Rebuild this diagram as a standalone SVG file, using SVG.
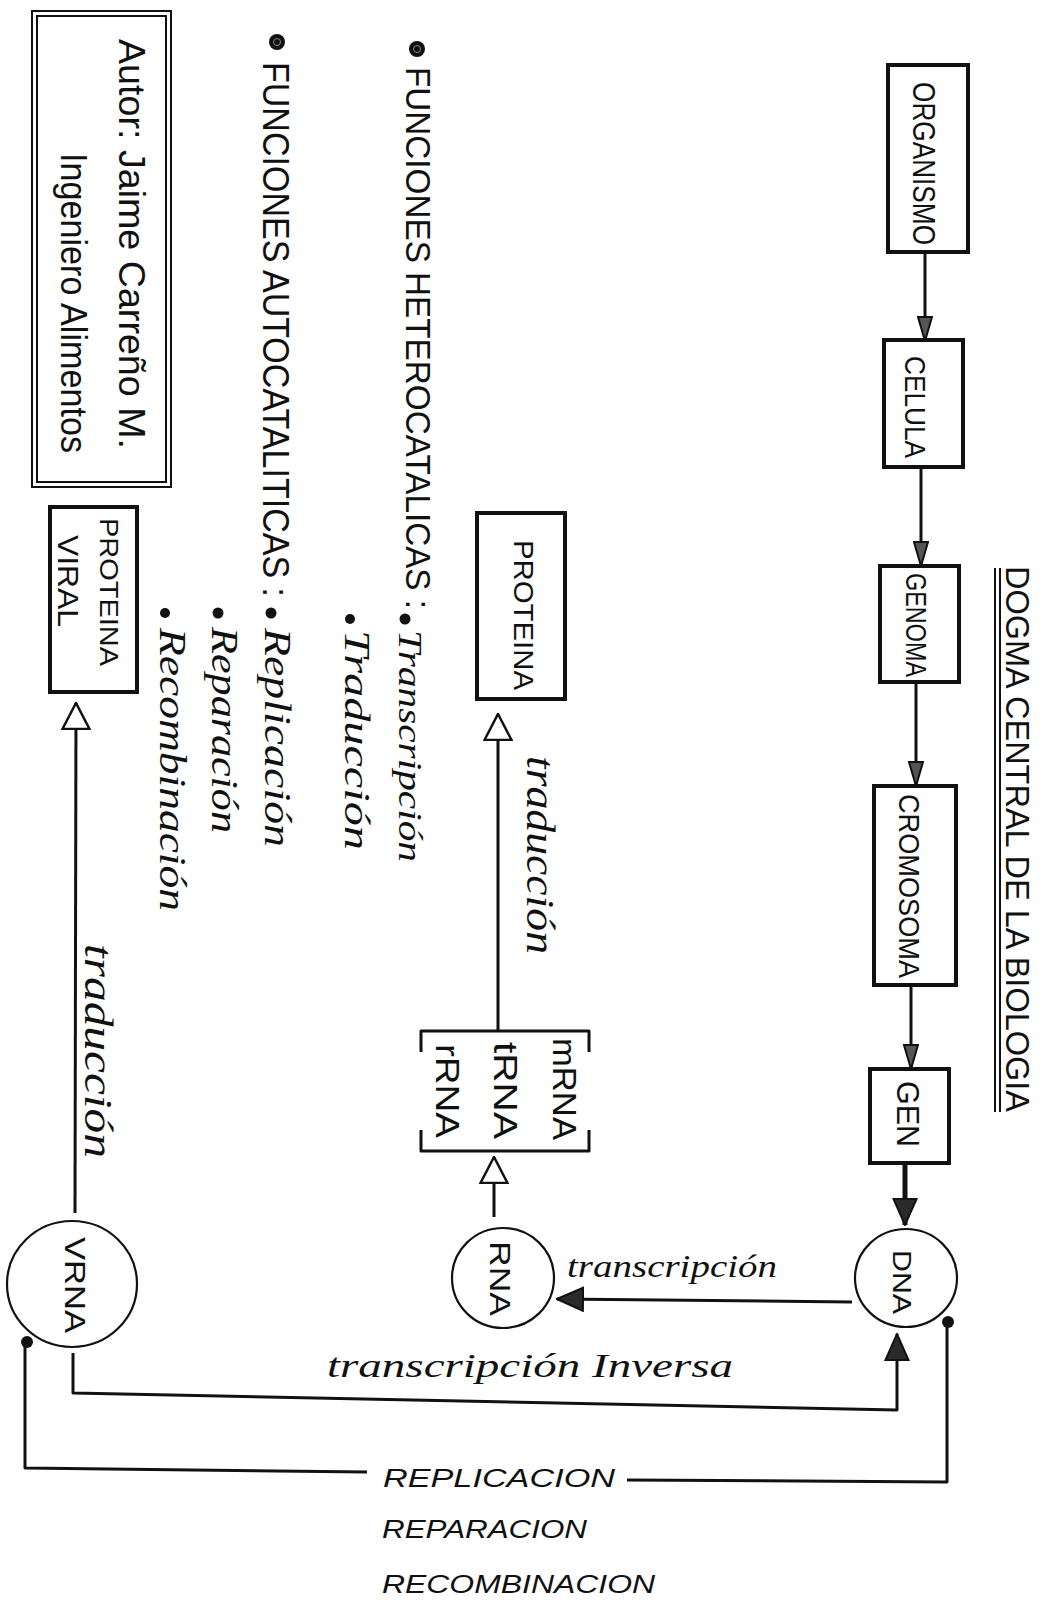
<svg xmlns="http://www.w3.org/2000/svg" width="1046" height="1600" viewBox="0 0 1046 1600">
<style>
  .bg{fill:#ffffff}
  .box{fill:none;stroke:#111;stroke-width:4}
  .thin{fill:none;stroke:#111;stroke-width:2}
  .circ{fill:none;stroke:#111;stroke-width:2.2}
  .ln{fill:none;stroke:#111;stroke-width:3;stroke-linejoin:round}
  .lnb{fill:none;stroke:#111;stroke-width:5}
  .cap{font-family:"Liberation Sans","DejaVu Sans",sans-serif;fill:#111}
  .hand{font-family:"Liberation Serif","DejaVu Serif",serif;font-style:italic;fill:#111}
  .pen{font-family:"Liberation Sans","DejaVu Sans",sans-serif;fill:#111}
  .ital{font-family:"Liberation Sans","DejaVu Sans",sans-serif;font-style:italic;fill:#111}
  .dot{fill:#111}
</style>
<defs>
  <marker id="ahOpen" markerUnits="userSpaceOnUse" viewBox="0 0 28 30" markerWidth="28" markerHeight="30" refX="27" refY="15" orient="auto">
    <path d="M1,1.5 L27,15 L1,28.5 Z" fill="#fff" stroke="#111" stroke-width="2.5"/>
  </marker>
  <marker id="ahSolid" markerUnits="userSpaceOnUse" viewBox="0 0 28 26" markerWidth="28" markerHeight="26" refX="27" refY="13" orient="auto">
    <path d="M1,1.5 L27,13 L1,24.5 Z" fill="#2a2a2a" stroke="#111" stroke-width="2"/>
  </marker>
  <marker id="ahSmall" markerUnits="userSpaceOnUse" viewBox="0 0 26 16" markerWidth="26" markerHeight="16" refX="25" refY="8" orient="auto">
    <path d="M1,1 L25,8 L1,15 Z" fill="#555" stroke="#111" stroke-width="2"/>
  </marker>
</defs>
<rect class="bg" x="0" y="0" width="1046" height="1600"/>

<g id="title">
  <text class="cap" font-size="34" textLength="546" lengthAdjust="spacingAndGlyphs" transform="translate(1006,566) rotate(90)">DOGMA CENTRAL DE LA BIOLOGIA</text>
  <path class="thin" d="M995,568 L995,1112 M1000,568 L1000,1112"/>
</g>

<g id="organismo">
  <rect class="box" x="888" y="65" width="80" height="187"/>
  <text class="cap" font-size="32" textLength="163" lengthAdjust="spacingAndGlyphs" transform="translate(913,82) rotate(90)">ORGANISMO</text>
</g>
<g id="celula">
  <rect class="box" x="884" y="340" width="79" height="127"/>
  <text class="cap" font-size="30" textLength="102" lengthAdjust="spacingAndGlyphs" transform="translate(905,356) rotate(90)">CELULA</text>
</g>
<g id="genoma">
  <rect class="box" x="880" y="566" width="79" height="116"/>
  <text class="cap" font-size="30" textLength="104" lengthAdjust="spacingAndGlyphs" transform="translate(906,573) rotate(90)">GENOMA</text>
</g>
<g id="cromosoma">
  <rect class="box" x="874" y="786" width="82" height="199"/>
  <text class="cap" font-size="30" textLength="184" lengthAdjust="spacingAndGlyphs" transform="translate(899,794) rotate(90)">CROMOSOMA</text>
</g>
<g id="gen">
  <rect class="box" x="870" y="1069" width="79" height="94"/>
  <text class="cap" font-size="32" textLength="66" lengthAdjust="spacingAndGlyphs" transform="translate(897,1081) rotate(90)">GEN</text>
</g>
<g id="dna">
  <ellipse class="circ" cx="906" cy="1278" rx="51" ry="49"/>
  <text class="cap" font-size="25" textLength="64" lengthAdjust="spacingAndGlyphs" transform="translate(893,1250) rotate(90)">DNA</text>
</g>
<g id="rna">
  <ellipse class="circ" cx="503" cy="1278" rx="51" ry="50"/>
  <text class="cap" font-size="30" textLength="75" lengthAdjust="spacingAndGlyphs" transform="translate(490,1241) rotate(90)">RNA</text>
</g>
<g id="vrna">
  <ellipse class="circ" cx="72" cy="1284" rx="65" ry="63"/>
  <text class="cap" font-size="30" textLength="96" lengthAdjust="spacingAndGlyphs" transform="translate(65,1237) rotate(90)">VRNA</text>
</g>
<g id="rnas">
  <path class="ln" d="M421,1052 L421,1031 L589,1031 L589,1052 M421,1130 L421,1151 L589,1151 L589,1130"/>
  <text class="pen" font-size="33" textLength="102" lengthAdjust="spacingAndGlyphs" transform="translate(553,1038) rotate(90)">mRNA</text>
  <text class="pen" font-size="33" textLength="97" lengthAdjust="spacingAndGlyphs" transform="translate(494,1042) rotate(90)">tRNA</text>
  <text class="pen" font-size="33" textLength="94" lengthAdjust="spacingAndGlyphs" transform="translate(436,1044) rotate(90)">rRNA</text>
</g>
<g id="proteina">
  <rect class="box" x="477" y="513" width="88" height="186"/>
  <text class="cap" font-size="27" textLength="150" lengthAdjust="spacingAndGlyphs" transform="translate(514,540) rotate(90)">PROTEINA</text>
</g>
<g id="proteina-viral">
  <rect class="box" x="50" y="507" width="87" height="185"/>
  <text class="cap" font-size="26" textLength="148" lengthAdjust="spacingAndGlyphs" transform="translate(100,518) rotate(90)">PROTEINA</text>
  <text class="cap" font-size="30" textLength="92" lengthAdjust="spacingAndGlyphs" transform="translate(58,535) rotate(90)">VIRAL</text>
</g>
<g id="autor">
  <rect class="thin" x="32" y="11" width="139" height="476"/>
  <rect class="thin" x="37" y="16" width="129" height="466"/>
  <text class="pen" font-size="36" textLength="410" lengthAdjust="spacingAndGlyphs" transform="translate(119,39) rotate(90)">Autor: Jaime Carreño M.</text>
  <text class="pen" font-size="36" textLength="300" lengthAdjust="spacingAndGlyphs" transform="translate(61,153) rotate(90)">Ingeniero Alimentos</text>
</g>
<g id="heterocataliticas">
  <circle class="dot" cx="417" cy="49" r="8"/>
  <circle cx="417" cy="49" r="3.5" fill="none" stroke="#888" stroke-width="1"/>
  <text class="cap" font-size="35" textLength="542" lengthAdjust="spacingAndGlyphs" transform="translate(406,67) rotate(90)">FUNCIONES HETEROCATALICAS :</text>
  <circle class="dot" cx="405" cy="619" r="5.5"/>
  <text class="hand" font-size="33" textLength="232" lengthAdjust="spacingAndGlyphs" transform="translate(399,630) rotate(90)">Transcripción</text>
  <circle class="dot" cx="350" cy="619" r="5"/>
  <text class="hand" font-size="36" textLength="220" lengthAdjust="spacingAndGlyphs" transform="translate(345,630) rotate(90)">Traducción</text>
</g>
<g id="autocataliticas">
  <circle class="dot" cx="277" cy="42" r="8"/>
  <circle cx="277" cy="42" r="3.5" fill="none" stroke="#888" stroke-width="1"/>
  <text class="cap" font-size="36" textLength="535" lengthAdjust="spacingAndGlyphs" transform="translate(263,62) rotate(90)">FUNCIONES AUTOCATALITICAS :</text>
  <circle class="dot" cx="271" cy="613" r="5.5"/>
  <text class="hand" font-size="37" textLength="219" lengthAdjust="spacingAndGlyphs" transform="translate(265,628) rotate(90)">Replicación</text>
  <circle class="dot" cx="218" cy="613" r="5.5"/>
  <text class="hand" font-size="37" textLength="206" lengthAdjust="spacingAndGlyphs" transform="translate(212,627) rotate(90)">Reparación</text>
  <circle class="dot" cx="165" cy="613" r="5"/>
  <text class="hand" font-size="37" textLength="283" lengthAdjust="spacingAndGlyphs" transform="translate(160,628) rotate(90)">Recombinación</text>
</g>

<g id="connectors">
  <path class="ln" d="M925,252 L925,341" marker-end="url(#ahSmall)"/>
  <path class="ln" d="M921,467 L921,566" marker-end="url(#ahSmall)"/>
  <path class="ln" d="M916,682 L916,786" marker-end="url(#ahSmall)"/>
  <path class="ln" d="M911,985 L911,1069" marker-end="url(#ahSmall)"/>
  <path class="lnb" d="M905,1163 L905,1225" marker-end="url(#ahSolid)"/>
  <path class="ln" d="M852,1302 L557,1299" marker-end="url(#ahSolid)"/>
  <path class="ln" d="M494,1217 L494,1157" marker-end="url(#ahOpen)"/>
  <path class="ln" d="M498,1031 L498,714" marker-end="url(#ahOpen)"/>
  <path class="ln" d="M75,1213 L76,703" marker-end="url(#ahOpen)"/>
  <path class="ln" d="M73,1353 L73,1393 L897,1410 L897,1334" marker-end="url(#ahSolid)"/>
  <path class="ln" d="M25,1342 L25,1468 L367,1472"/>
  <path class="ln" d="M627,1480 L947,1482 L947,1322"/>
  <circle class="dot" cx="27" cy="1342" r="6"/>
  <circle class="dot" cx="948" cy="1322" r="6"/>
  <text class="hand" font-size="40" textLength="214" lengthAdjust="spacingAndGlyphs" transform="translate(85,944) rotate(90)">traducción</text>
  <text class="hand" font-size="40" textLength="198" lengthAdjust="spacingAndGlyphs" transform="translate(527,756) rotate(90)">traducción</text>
  <text class="hand" font-size="32" x="567" y="1277" textLength="210" lengthAdjust="spacingAndGlyphs">transcripción</text>
  <text class="hand" font-size="34" x="327" y="1377" textLength="406" lengthAdjust="spacingAndGlyphs">transcripción Inversa</text>
  <text class="ital" font-size="26" x="383" y="1487" textLength="232" lengthAdjust="spacingAndGlyphs">REPLICACION</text>
  <text class="ital" font-size="26" x="382" y="1538" textLength="205" lengthAdjust="spacingAndGlyphs">REPARACION</text>
  <text class="ital" font-size="26" x="382" y="1593" textLength="273" lengthAdjust="spacingAndGlyphs">RECOMBINACION</text>
</g>
</svg>
